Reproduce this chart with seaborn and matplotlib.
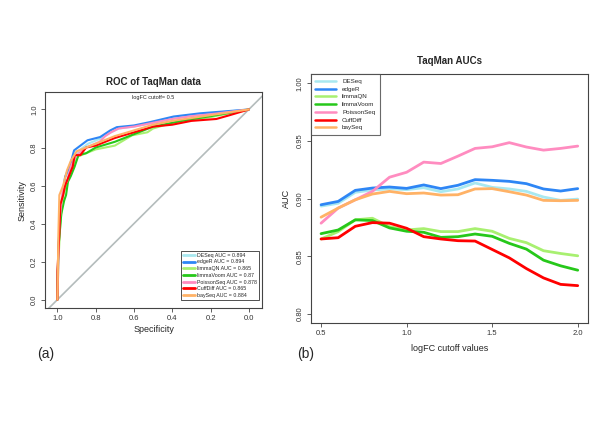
import numpy as np
import pandas as pd
import matplotlib
matplotlib.use("Agg")
import matplotlib.pyplot as plt
import seaborn as sns

sns.set_style("white")
plt.rcParams['font.family'] = ['Liberation Sans', 'DejaVu Sans']

methods = ["DESeq", "edgeR", "limmaQN", "limmaVoom", "PoissonSeq", "CuffDiff", "baySeq"]
colors = ["#A8E8F0", "#2E86F5", "#A8F070", "#26C81A", "#FF8CC0", "#FF0000", "#FFB266"]
roc_auc = ["0.894", "0.894", "0.865", "0.87", "0.878", "0.865", "0.884"]

# ROC curves (specificity, sensitivity) at logFC cutoff 0.5
spec_deseq = [1.0, 0.995, 0.98, 0.96, 0.93, 0.91, 0.88, 0.84, 0.78, 0.72, 0.68, 0.6, 0.5, 0.4, 0.25, 0.0]
sens_deseq = [0.0, 0.30, 0.50, 0.64, 0.70, 0.76, 0.79, 0.82, 0.845, 0.88, 0.90, 0.91, 0.93, 0.955, 0.975, 1.0]
spec_edger = [1.0, 0.995, 0.98, 0.96, 0.934, 0.913, 0.88, 0.843, 0.777, 0.724, 0.69, 0.6, 0.515, 0.393, 0.253, 0.0]
sens_edger = [0.0, 0.28, 0.49, 0.646, 0.707, 0.785, 0.81, 0.838, 0.855, 0.89, 0.907, 0.916, 0.934, 0.963, 0.98, 1.0]
spec_limmaqn = [1.0, 0.995, 0.985, 0.97, 0.95, 0.92, 0.9, 0.85, 0.8, 0.7, 0.61, 0.53, 0.5, 0.4, 0.2, 0.0]
sens_limmaqn = [0.0, 0.20, 0.40, 0.55, 0.62, 0.70, 0.75, 0.77, 0.79, 0.81, 0.864, 0.88, 0.90, 0.93, 0.96, 1.0]
spec_voom = [1.0, 0.998, 0.995, 0.98, 0.965, 0.955, 0.945, 0.93, 0.91, 0.89, 0.85, 0.8, 0.7, 0.6, 0.5, 0.35, 0.2, 0.0]
sens_voom = [0.0, 0.15, 0.27, 0.45, 0.52, 0.55, 0.62, 0.65, 0.70, 0.76, 0.77, 0.80, 0.83, 0.87, 0.91, 0.94, 0.965, 1.0]
spec_poisson = [1.0, 0.99, 0.97, 0.95, 0.93, 0.9, 0.85, 0.78, 0.75, 0.72, 0.68, 0.6, 0.5, 0.4, 0.3, 0.2, 0.0]
sens_poisson = [0.0, 0.40, 0.60, 0.62, 0.70, 0.76, 0.80, 0.83, 0.86, 0.88, 0.90, 0.91, 0.93, 0.95, 0.965, 0.975, 1.0]
spec_cuff = [1.0, 1.0, 0.99, 0.985, 0.97, 0.96, 0.94, 0.92, 0.91, 0.88, 0.85, 0.8, 0.7, 0.6, 0.5, 0.4, 0.3, 0.17, 0.1, 0.0]
sens_cuff = [0.0, 0.15, 0.35, 0.50, 0.55, 0.60, 0.65, 0.70, 0.76, 0.76, 0.80, 0.81, 0.85, 0.88, 0.91, 0.92, 0.94, 0.95, 0.97, 1.0]
spec_bayseq = [1.0, 0.995, 0.99, 0.97, 0.95, 0.93, 0.9, 0.85, 0.8, 0.7, 0.6, 0.5, 0.4, 0.2, 0.0]
sens_bayseq = [0.0, 0.35, 0.55, 0.60, 0.68, 0.73, 0.78, 0.80, 0.82, 0.86, 0.89, 0.92, 0.94, 0.97, 1.0]

roc_spec = [spec_deseq, spec_edger, spec_limmaqn, spec_voom, spec_poisson, spec_cuff, spec_bayseq]
roc_sens = [sens_deseq, sens_edger, sens_limmaqn, sens_voom, sens_poisson, sens_cuff, sens_bayseq]

# AUC vs logFC cutoff
cutoffs = [0.5, 0.6, 0.7, 0.8, 0.9, 1.0, 1.1, 1.2, 1.3, 1.4, 1.5, 1.6, 1.7, 1.8, 1.9, 2.0]
auc_deseq = [0.8935, 0.8960, 0.9055, 0.9075, 0.9085, 0.9078, 0.9095, 0.9060, 0.9084, 0.9136, 0.9098, 0.9084, 0.9063, 0.9014, 0.8985, 0.8996]
auc_edger = [0.8947, 0.8976, 0.9072, 0.9092, 0.9101, 0.9089, 0.9119, 0.9087, 0.9116, 0.9165, 0.9159, 0.9150, 0.9130, 0.9084, 0.9066, 0.9087]
auc_limmaqn = [0.8650, 0.8714, 0.8816, 0.8830, 0.8757, 0.8728, 0.8740, 0.8714, 0.8714, 0.8740, 0.8717, 0.8655, 0.8618, 0.8548, 0.8524, 0.8504]
auc_voom = [0.8696, 0.8728, 0.8816, 0.8810, 0.8746, 0.8717, 0.8708, 0.8664, 0.8670, 0.8693, 0.8673, 0.8612, 0.8562, 0.8466, 0.8417, 0.8379]
auc_poisson = [0.8787, 0.8918, 0.8990, 0.9063, 0.9186, 0.9229, 0.9317, 0.9305, 0.9369, 0.9436, 0.9450, 0.9486, 0.9448, 0.9421, 0.9436, 0.9456]
auc_cuff = [0.8650, 0.8661, 0.8760, 0.8792, 0.8787, 0.8743, 0.8670, 0.8650, 0.8635, 0.8632, 0.8559, 0.8486, 0.8393, 0.8312, 0.8256, 0.8245]
auc_bayseq = [0.8839, 0.8918, 0.8990, 0.9040, 0.9063, 0.9043, 0.9049, 0.9031, 0.9034, 0.9084, 0.9087, 0.9060, 0.9031, 0.8985, 0.8982, 0.8985]
auc_all = [auc_deseq, auc_edger, auc_limmaqn, auc_voom, auc_poisson, auc_cuff, auc_bayseq]

roc_df = pd.concat([pd.DataFrame({"spec": s, "sens": v, "method": m})
                    for s, v, m in zip(roc_spec, roc_sens, methods)])
auc_df = pd.concat([pd.DataFrame({"cutoff": cutoffs, "auc": a, "method": m})
                    for a, m in zip(auc_all, methods)])
palette = dict(zip(methods, colors))

fig = plt.figure(figsize=(6, 4.24), dpi=100)
ax1 = fig.add_axes([0.075, 0.2736, 0.362, 0.509])
ax2 = fig.add_axes([0.518, 0.238, 0.462, 0.587])

# (a) ROC curves
ax1.plot([1.2, -0.2], [-0.2, 1.2], color="#B4BCBC", lw=1.2, zorder=1)
for m, auc in zip(methods, roc_auc):
    sub = roc_df[roc_df["method"] == m]
    sns.lineplot(data=sub, x="spec", y="sens", sort=False, estimator=None,
                 color=palette[m], lw=1.5, ax=ax1, label=f"{m} AUC = {auc}")
ax1.set_xlim(1.065, -0.07)
ax1.set_ylim(-0.044, 1.091)
ax1.set_xticks([1.0, 0.8, 0.6, 0.4, 0.2, 0.0])
ax1.set_yticks([0.0, 0.2, 0.4, 0.6, 0.8, 1.0])
ax1.set_xticklabels(["1.0", "0.8", "0.6", "0.4", "0.2", "0.0"])
ax1.set_yticklabels(["0.0", "0.2", "0.4", "0.6", "0.8", "1.0"], rotation=90, va="center")
ax1.set_xlabel("Specificity", fontsize=6.5, labelpad=2)
ax1.set_ylabel("Sensitivity", fontsize=6.5, labelpad=3)
ax1.set_title("ROC of TaqMan data", fontsize=7, fontweight="bold", pad=5)
ax1.text(0.5, 1.065, "logFC cutoff= 0.5", fontsize=4, ha="center", va="center")
leg1 = ax1.legend(loc="lower right", bbox_to_anchor=(0.986, 0.037), fontsize=3.8,
                  frameon=True, fancybox=False, handlelength=2.2, handletextpad=0.4,
                  borderpad=0.4, labelspacing=0.32, borderaxespad=0.0)
leg1.get_frame().set_edgecolor("black")
leg1.get_frame().set_linewidth(0.6)
for line in leg1.get_lines():
    line.set_linewidth(2)

# (b) AUC vs cutoff
sns.lineplot(data=auc_df, x="cutoff", y="auc", hue="method", palette=palette,
             hue_order=methods, lw=2, ax=ax2)
ax2.set_xlim(0.44, 2.06)
ax2.set_ylim(0.792, 1.008)
ax2.set_xticks([0.5, 1.0, 1.5, 2.0])
ax2.set_xticklabels(["0.5", "1.0", "1.5", "2.0"])
ax2.set_yticks([0.80, 0.85, 0.90, 0.95, 1.00])
ax2.set_yticklabels(["0.80", "0.85", "0.90", "0.95", "1.00"], rotation=90, va="center")
ax2.set_xlabel("logFC cutoff values", fontsize=6.5, labelpad=5)
ax2.set_ylabel("AUC", fontsize=6.5, labelpad=4)
ax2.set_title("TaqMan AUCs", fontsize=7, fontweight="bold", pad=7)
leg2 = ax2.legend(loc="upper left", fontsize=4.5, frameon=True, fancybox=False,
                  handlelength=3.4, handletextpad=0.9, borderpad=0.7, labelspacing=0.38,
                  borderaxespad=0.0, title=None)
leg2.get_frame().set_edgecolor("#444444")
leg2.get_frame().set_linewidth(0.8)
for line in leg2.get_lines():
    line.set_linewidth(1.8)

for ax in (ax1, ax2):
    for sp in ax.spines.values():
        sp.set_visible(True)
        sp.set_color("#444444")
        sp.set_linewidth(0.8)
    ax.tick_params(axis="both", which="both", direction="out", length=3, width=0.6,
                   colors="#444444", labelcolor="#333333", labelsize=5.5, pad=2,
                   bottom=True, left=True)

fig.text(46 / 600, 1 - 354 / 424, "(a)", fontsize=10, ha="center", va="center")
fig.text(306 / 600, 1 - 354 / 424, "(b)", fontsize=10, ha="center", va="center")

fig.savefig("out.png", dpi=100)
